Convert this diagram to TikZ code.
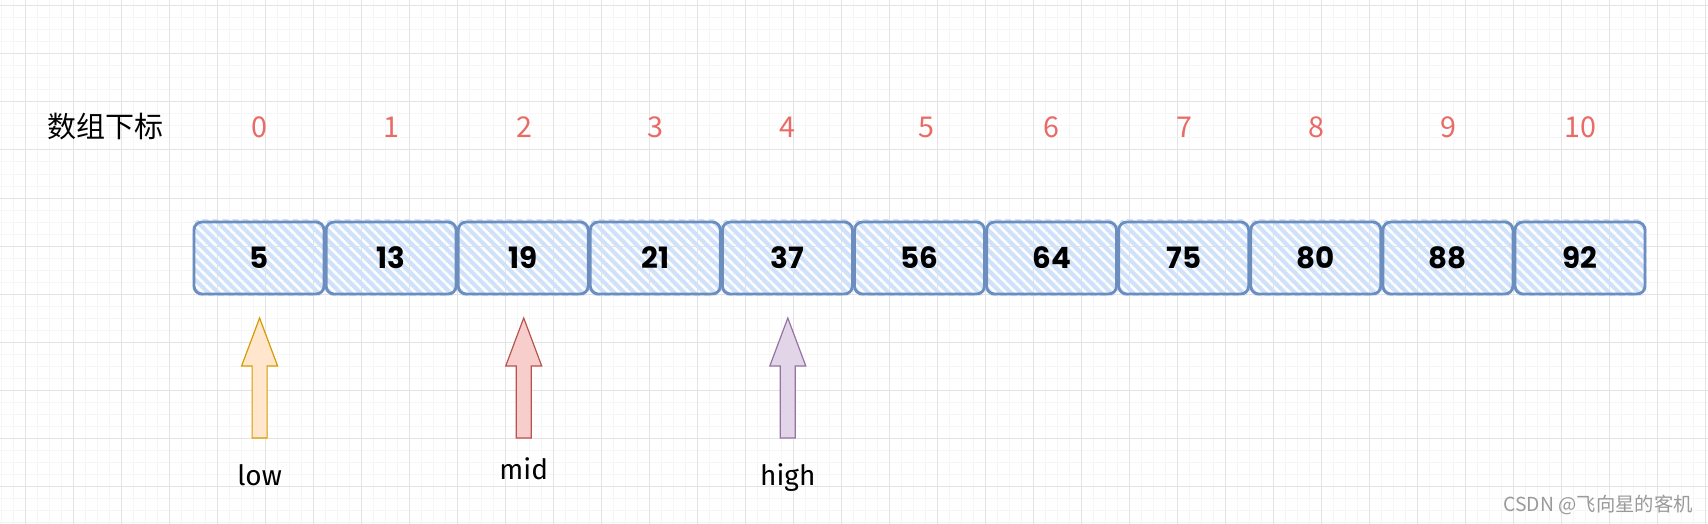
\documentclass[tikz,border=0pt]{standalone}
\usepackage{fontspec}
\setmainfont{Fira Sans}
\newfontfamily\cjkfont{Noto Sans CJK SC}
\newfontfamily\numfont{Poppins}
\definecolor{gridmajor}{HTML}{E3E3E3}
\definecolor{gridminor}{HTML}{F6F6F6}
\definecolor{idxred}{HTML}{EA6B66}
\definecolor{cellline}{HTML}{6C8EBF}
\definecolor{cellhatch}{HTML}{D0E2FA}
\definecolor{lowfill}{HTML}{FFE6CC}
\definecolor{lowline}{HTML}{D79B00}
\definecolor{midfill}{HTML}{F8CECC}
\definecolor{midline}{HTML}{B85450}
\definecolor{highfill}{HTML}{E1D5E7}
\definecolor{highline}{HTML}{9673A6}
\definecolor{wmgray}{HTML}{9A9A9A}
\tikzset{
  cell/.style={draw=cellline, line width=2.1pt, rounded corners=6pt,
    minimum width=97.5pt, minimum height=54pt, inner sep=0pt,
    font=\numfont\bfseries\fontsize{22}{24}\selectfont},
  hatchline/.style={cellhatch, line width=3.1pt},
  idx/.style={text=idxred, inner sep=0pt, font=\cjkfont\fontsize{21.5}{24}\selectfont},
  ptrlabel/.style={inner sep=0pt, font=\fontsize{21}{24}\selectfont},
  ptrarrow/.style={line width=0.9pt, line join=miter}
}
\begin{document}
\begin{tikzpicture}[x=0.75pt,y=-0.75pt]
\useasboundingbox (0,0) rectangle (1708,524);
\fill[white] (0,0) rectangle (1708,524);
% grid
\foreach \i in {0,...,142} \draw[gridminor, line width=0.75pt] ({1.7+12*\i},0) -- ({1.7+12*\i},524);
\foreach \j in {0,...,43} \draw[gridminor, line width=0.75pt] (0,{6+12*\j}) -- (1708,{6+12*\j});
\foreach \i in {0,...,35} \draw[gridmajor, line width=0.75pt] ({25.7+48*\i},0) -- ({25.7+48*\i},524);
\foreach \j in {0,...,10} \draw[gridmajor, line width=0.75pt] (0,{6+48*\j}) -- (1708,{6+48*\j});
% header
\node[inner sep=0pt, font=\cjkfont\fontsize{21.75}{24}\selectfont] (hdr) at (105,127) {数组下标};
\foreach \k/\xx in {0/259,1/391,2/524,3/655,4/787.7,5/926,6/1051.7,7/1184,8/1316,9/1448,10/1580}
  \node[idx] (i\k) at (\xx,127) {\k};
% hatching of the cells
\foreach \k in {0,...,10}{
  \pgfmathsetmacro{\lx}{259+132.1*\k-65.5}
  \begin{scope}
    \clip[rounded corners=6pt] (\lx-1,219) rectangle (\lx+132,296);
    \foreach \t in {-80,-70,...,140}
      \draw[hatchline] (\lx+\t,218) -- ++(80,80);
  \end{scope}
}
% cells
\foreach \k/\v in {0/5,1/13,2/19,3/21,4/37,5/56,6/64,7/75,8/80,9/88,10/92}
  \node[cell] (c\k) at ({259+132.1*\k},258) {\v};
% pointer arrows
\foreach \n/\cx/\fc/\dc in {lowp/259.6/lowfill/lowline, midp/523.7/midfill/midline, highp/787.8/highfill/highline}{
  \coordinate (\n) at (\cx,318);
  \draw[ptrarrow, fill=\fc, draw=\dc] (\n) -- ++(18,48) -- ++(-10.5,0) -- ++(0,72) -- ++(-15,0) -- ++(0,-72) -- ++(-10.5,0) -- cycle;
}
\node[ptrlabel, anchor=base] (low) at (259.6,485) {low};
\node[ptrlabel, anchor=base] (mid) at (523.7,479) {mid};
\node[ptrlabel, anchor=base] (high) at (787.8,485) {high};
% watermark
\node[anchor=base east, inner sep=0pt, text=wmgray, font=\cjkfont\fontsize{14.5}{16}\selectfont] (wm) at (1693,511.5) {CSDN @飞向星的客机};
\end{tikzpicture}
\end{document}
